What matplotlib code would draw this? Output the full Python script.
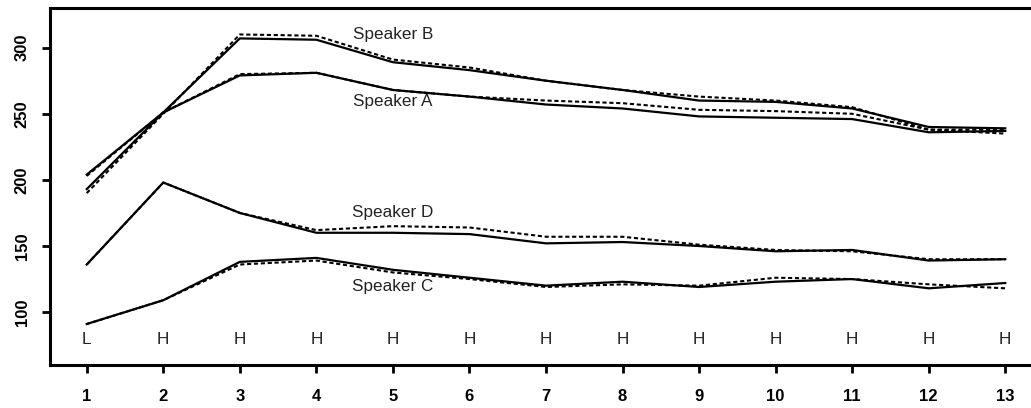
import matplotlib.pyplot as plt
import numpy as np

plt.rcParams['font.family'] = ['Liberation Sans', 'DejaVu Sans']

syllables = np.arange(1, 14)
tones = ['L', 'H', 'H', 'H', 'H', 'H', 'H', 'H', 'H', 'H', 'H', 'H', 'H']

# pitch per syllable, solid = first reading, dashed = second reading
a_solid = [204, 251, 279, 281, 268, 263, 257, 254, 248, 247, 246, 236, 237]
a_dash = [203, 251, 280, 281, 268, 263, 260, 258, 253, 252, 250, 238, 235]
b_solid = [193, 251, 307, 306, 289, 283, 275, 268, 260, 259, 254, 240, 239]
b_dash = [190, 250, 310, 309, 291, 285, 275, 268, 263, 260, 255, 238, 238]
d_solid = [136, 198, 175, 160, 160, 159, 152, 153, 150, 146, 147, 139, 140]
d_dash = [136, 198, 175, 162, 165, 164, 157, 157, 151, 147, 146, 140, 140]
c_solid = [91, 109, 138, 141, 132, 126, 120, 123, 119, 123, 125, 118, 122]
c_dash = [91, 109, 136, 139, 130, 125, 119, 121, 120, 126, 125, 121, 118]

speakers = ['Speaker A', 'Speaker B', 'Speaker C', 'Speaker D']
label_y = [259, 310, 119, 175]

fig = plt.figure(figsize=(10.31, 4.08), dpi=100)
ax = fig.add_axes([50 / 1031, 43 / 408, 992 / 1031, 357 / 408])

for solid, dash in [(a_solid, a_dash), (b_solid, b_dash),
                    (c_solid, c_dash), (d_solid, d_dash)]:
    ax.plot(syllables, dash, color='black', lw=1.5, ls=(0, (2, 1.3)))
    ax.plot(syllables, solid, color='black', lw=1.6)

for name, y in zip(speakers, label_y):
    ax.text(5, y, name, ha='center', va='center', fontsize=12.3, color='#222222')

for x, t in zip(syllables, tones):
    ax.text(x, 79, t, ha='center', va='center', fontsize=12.3, color='#222222')

ax.set_xlim(0.52, 13.48)
ax.set_ylim(60, 330)
ax.set_xticks(syllables)
ax.set_yticks([100, 150, 200, 250, 300])
ax.tick_params(axis='x', length=5.5, width=2, pad=12)
ax.tick_params(axis='y', length=5.5, width=2, pad=9, labelrotation=90)
for lab in ax.get_xticklabels() + ax.get_yticklabels():
    lab.set_fontweight('bold')
    lab.set_fontsize(12)
for lab in ax.get_yticklabels():
    lab.set_va('center')
for s in ax.spines.values():
    s.set_linewidth(2.2)

fig.savefig('out.png', dpi=100)
